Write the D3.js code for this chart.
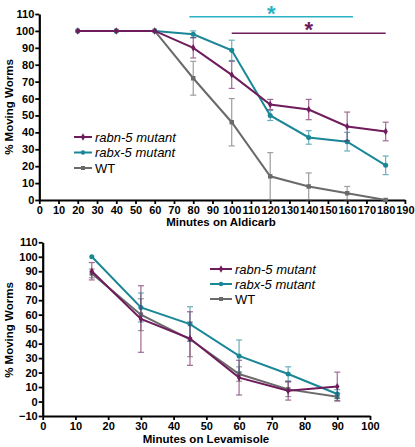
<!DOCTYPE html>
<html><head><meta charset="utf-8">
<script src="https://cdn.jsdelivr.net/npm/d3@7"></script>
<style>body{margin:0;background:#fff}svg{display:block;font-family:"Liberation Sans",Arial,sans-serif}</style>
</head><body><svg id="c" width="415" height="447"></svg>
<script>
// ---------- Data: Aldicarb ----------
const aldX = [20, 40, 60, 80, 100, 120, 140, 160, 180];
const aldRabn = [100, 100, 100, 90, 74, 56.5, 53.5, 43.5, 40.5];
const aldRabnErr = [0, 0, 0, 6, 8, 3, 6, 8.5, 5.5];
const aldRabx = [100, 100, 100, 98, 88.5, 50, 37, 34.5, 20.5];
const aldRabxErr = [0, 0, 0, 2, 6, 3, 4, 5.5, 5.5];
const aldWT = [100, 100, 100, 72, 46, 14, 8, 4, 0];
const aldWTErr = [0, 0, 0, 10, 14, 14, 8, 4, 0];
const aldXTicks = d3.range(0, 200, 10);
const aldYTicks = d3.range(0, 120, 10);
const sigBars = [
  {from: 78, to: 163, level: 0, color: "#2bb3c4", label: "*"},
  {from: 100, to: 180, level: 1, color: "#6e1c5c", label: "*"}
];
// ---------- Data: Levamisole ----------
const levX = [15, 30, 45, 60, 75, 90];
const levRabn = [90, 57, 43.5, 16.5, 7.5, 10.3];
const levRabnErr = [6, 23, 18.5, 12, 6.5, 10];
const levRabx = [100, 65, 53.5, 31.5, 19, 5.2];
const levRabxErr = [0, 10, 12, 11, 5, 3];
const levWT = [88.5, 60, 43, 19, 8.4, 3.3];
const levWTErr = [3, 11, 12, 5, 5, 2.5];
const levXTicks = d3.range(0, 110, 10);
const levYTicks = d3.range(-10, 120, 10);

const seriesNames = ["rabn-5 mutant", "rabx-5 mutant", "WT"];
const colors = {"rabn-5 mutant": "#6e1c5c", "rabx-5 mutant": "#1a8797", "WT": "#6a6a6a"};
const markers = {"rabn-5 mutant": d3.symbolDiamond, "rabx-5 mutant": d3.symbolCircle, "WT": d3.symbolSquare};

const svg = d3.select("#c");

function drawPanel(cfg) {
  const g = svg.append("g");
  const x = d3.scaleLinear().domain(cfg.xDomain).range(cfg.xRange);
  const y = d3.scaleLinear().domain(cfg.yDomain).range(cfg.yRange);

  const xa = g.append("g").attr("transform", `translate(0,${cfg.yRange[0]})`)
    .call(d3.axisBottom(x).tickValues(cfg.xTicks).tickSize(4).tickSizeOuter(0).tickPadding(2));
  const ya = g.append("g").attr("transform", `translate(${cfg.xRange[0]},0)`)
    .call(d3.axisLeft(y).tickValues(cfg.yTicks).tickSize(4).tickSizeOuter(0).tickPadding(1));
  [xa, ya].forEach(a => {
    a.select(".domain").attr("stroke", "#000").attr("stroke-width", 2.2);
    a.selectAll(".tick line").attr("stroke", "#000").attr("stroke-width", 1.8);
    a.selectAll("text").attr("font-size", 11).attr("font-weight", "bold").attr("fill", "#000")
      .attr("font-family", '"Liberation Sans",Arial,sans-serif');
  });

  cfg.series.forEach(s => {
    const col = colors[s.name];
    const pts = cfg.xs.map((xv, i) => ({x: xv, y: s.vals[i], e: s.err[i]}));
    const eb = g.append("g").attr("stroke", col).attr("stroke-width", 1.2).attr("opacity", 0.65);
    pts.filter(p => p.e > 0).forEach(p => {
      const lo = Math.max(p.y - p.e, cfg.clipLow), hi = p.y + p.e;
      eb.append("line").attr("x1", x(p.x)).attr("x2", x(p.x)).attr("y1", y(lo)).attr("y2", y(hi));
      eb.append("line").attr("x1", x(p.x) - 3).attr("x2", x(p.x) + 3).attr("y1", y(hi)).attr("y2", y(hi));
      if (p.y - p.e >= cfg.clipLow)
        eb.append("line").attr("x1", x(p.x) - 3).attr("x2", x(p.x) + 3).attr("y1", y(lo)).attr("y2", y(lo));
    });
    g.append("path").datum(pts).attr("fill", "none").attr("stroke", col).attr("stroke-width", 2)
      .attr("d", d3.line().x(p => x(p.x)).y(p => y(p.y)));
    g.selectAll(null).data(pts).enter().append("path")
      .attr("transform", p => `translate(${x(p.x)},${y(p.y)})`)
      .attr("d", d3.symbol().type(markers[s.name]).size(s.name === "rabn-5 mutant" ? 16 : 20))
      .attr("fill", col);
  });

  const lg = g.append("g");
  seriesNames.forEach((n, i) => {
    const yy = cfg.legend.y + i * cfg.legend.dy;
    lg.append("line").attr("x1", cfg.legend.x).attr("x2", cfg.legend.x + cfg.legend.w)
      .attr("y1", yy).attr("y2", yy).attr("stroke", colors[n]).attr("stroke-width", 2);
    lg.append("path").attr("transform", `translate(${cfg.legend.x + cfg.legend.w / 2},${yy})`)
      .attr("d", d3.symbol().type(markers[n]).size(16)).attr("fill", colors[n]);
    lg.append("text").attr("x", cfg.legend.x + cfg.legend.w + 3).attr("y", yy + 4.5)
      .attr("font-size", 13).attr("font-style", n === "WT" ? "normal" : "italic")
      .attr("fill", "#000").text(n);
  });

  g.append("text").attr("x", cfg.xTitle.x).attr("y", cfg.xTitle.y).attr("text-anchor", "middle")
    .attr("font-size", 11.5).attr("font-weight", "bold").text(cfg.xTitle.text);
  g.append("text").attr("transform", `translate(${cfg.yTitle.x},${cfg.yTitle.y}) rotate(-90)`)
    .attr("text-anchor", "middle").attr("font-size", 11.5).attr("font-weight", "bold").text("% Moving Worms");

  return {x, y, g};
}

const topPanel = drawPanel({
  xDomain: [0, 190], xRange: [39.3, 404.9], yDomain: [0, 110], yRange: [200, 14],
  xTicks: aldXTicks, yTicks: aldYTicks, xs: aldX, clipLow: 0,
  series: [
    {name: "WT", vals: aldWT, err: aldWTErr},
    {name: "rabx-5 mutant", vals: aldRabx, err: aldRabxErr},
    {name: "rabn-5 mutant", vals: aldRabn, err: aldRabnErr}
  ],
  legend: {x: 74, y: 137, dy: 15.5, w: 18},
  xTitle: {x: 221, y: 226, text: "Minutes on Aldicarb"},
  yTitle: {x: 13, y: 107}
});

sigBars.forEach(b => {
  const yy = 16.7 + b.level * 16.6;
  topPanel.g.append("line").attr("x1", topPanel.x(b.from)).attr("x2", topPanel.x(b.to)).attr("y1", yy).attr("y2", yy)
    .attr("stroke", b.color).attr("stroke-width", 1.5);
  topPanel.g.append("text").attr("x", (topPanel.x(b.from) + topPanel.x(b.to)) / 2).attr("y", yy + 4)
    .attr("text-anchor", "middle").attr("font-size", 22).attr("font-weight", "bold")
    .attr("fill", b.color).text(b.label);
});

drawPanel({
  xDomain: [0, 100], xRange: [42.7, 370], yDomain: [-10, 110], yRange: [416, 242.3],
  xTicks: levXTicks, yTicks: levYTicks, xs: levX, clipLow: -10,
  series: [
    {name: "WT", vals: levWT, err: levWTErr},
    {name: "rabx-5 mutant", vals: levRabx, err: levRabxErr},
    {name: "rabn-5 mutant", vals: levRabn, err: levRabnErr}
  ],
  legend: {x: 210, y: 269, dy: 15, w: 22},
  xTitle: {x: 206, y: 443, text: "Minutes on Levamisole"},
  yTitle: {x: 13, y: 330}
});
</script></body></html>
